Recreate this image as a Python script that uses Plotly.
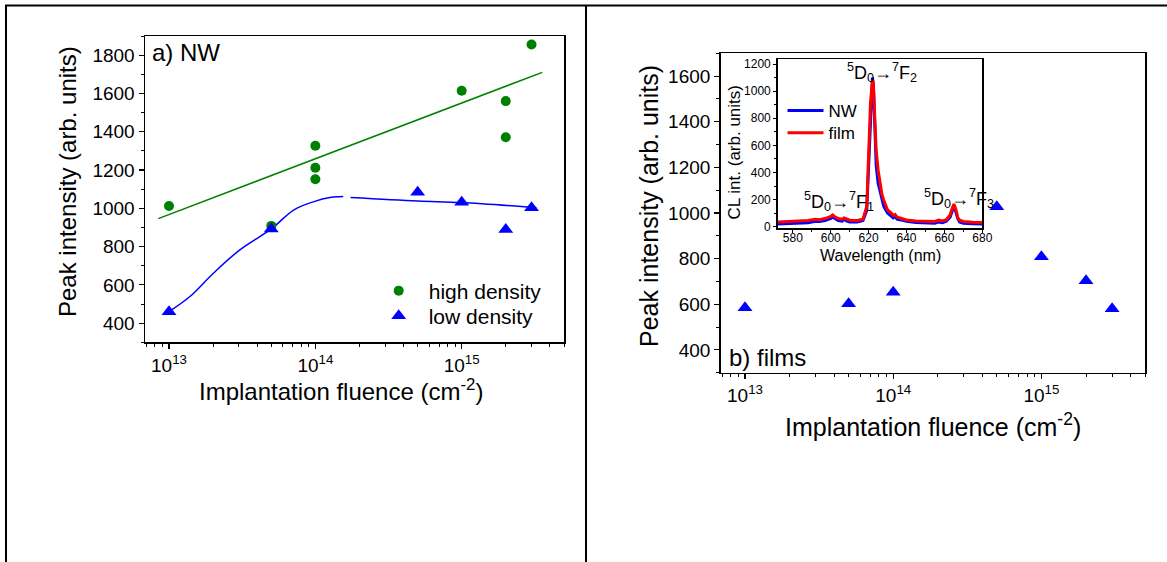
import plotly.graph_objects as go

FIG_W, FIG_H = 1167, 562
FONT = "Liberation Sans, Arial, sans-serif"

# ---------------- data ----------------
# a) NW
fluence_hd = [1e13, 5e13, 1e14, 1e14, 1e14, 1e15, 2e15, 2e15, 3e15]
peak_hd = [1012, 908, 1327, 1212, 1152, 1614, 1560, 1371, 1856]
fluence_ld = [1e13, 5e13, 5e14, 1e15, 2e15, 3e15]
peak_ld = [460, 892, 1084, 1032, 889, 1003]
fit_hd_x = [8.45e12, 3.55e15]
fit_hd_y = [946, 1710]
guide_ld_x = [1e13, 1.39e13, 2.01e13, 3.05e13, 5e13, 7.1e13, 9.8e13, 1.26e14, 1.55e14,
              None, 1.74e14, 5e14, 1e15, 3.24e15]
guide_ld_y = [460, 539, 661, 783, 892, 991, 1035, 1056, 1061,
              None, 1056, 1038, 1030, 1003]

# b) films
fluence_film = [1e13, 5e13, 1e14, 5e14, 1e15, 2e15, 3e15]
peak_film = [585, 602, 653, 1027, 808, 703, 580]

# inset: CL spectra
wavelength = [572, 576, 580, 584, 588, 592, 594, 597, 600, 601, 602, 604, 606, 607, 608,
              610, 614, 617, 619, 620, 621, 622, 622.5, 623, 624, 625, 626, 627, 628, 630,
              632, 633, 634, 635, 637, 640, 645, 650, 655, 657, 659, 661, 663, 664, 665,
              666, 667, 668, 670, 675, 680]
cl_nw = [20, 22, 24, 25, 28, 40, 38, 45, 60, 72, 62, 45, 40, 55, 45,
         35, 35, 45, 120, 450, 900, 1100, 1050, 800, 450, 320, 260, 200, 150, 100,
         80, 65, 75, 55, 50, 40, 30, 25, 25, 35, 30, 40, 70, 110, 148,
         110, 60, 35, 25, 22, 20]
cl_film = [35, 38, 40, 42, 45, 55, 52, 60, 75, 86, 75, 60, 55, 65, 58,
           48, 45, 55, 150, 500, 920, 1080, 1060, 880, 560, 418, 320, 240, 195, 123,
           100, 85, 90, 70, 62, 50, 42, 38, 38, 48, 42, 52, 86, 130, 167,
           130, 70, 48, 38, 32, 30]

fluence_ticks = [1e13, 1e14, 1e15]
fluence_ticktext = ["10<sup>13</sup>", "10<sup>14</sup>", "10<sup>15</sup>"]

GREEN = "#008000"
BLUE = "#0000FF"
RED = "#FF0000"

LOG_RANGE = [12.836, 15.699]


def fx(p):
    return p / FIG_W


def fy(p):
    return 1 - p / FIG_H


fig = go.Figure()

# ---- panel a ----
fig.add_trace(go.Scatter(x=fit_hd_x, y=fit_hd_y, mode="lines",
                         line=dict(color=GREEN, width=1.5), showlegend=False,
                         xaxis="x", yaxis="y", hoverinfo="skip"))
fig.add_trace(go.Scatter(x=guide_ld_x, y=guide_ld_y, mode="lines",
                         line=dict(color=BLUE, width=1.5, shape="spline"),
                         connectgaps=False, showlegend=False,
                         xaxis="x", yaxis="y", hoverinfo="skip"))
fig.add_trace(go.Scatter(x=fluence_hd, y=peak_hd, mode="markers", name="high density",
                         marker=dict(symbol="circle", size=10, color=GREEN),
                         xaxis="x", yaxis="y", legend="legend"))
fig.add_trace(go.Scatter(x=fluence_ld, y=peak_ld, mode="markers", name="low density",
                         marker=dict(symbol="triangle-up", size=13, color=BLUE),
                         xaxis="x", yaxis="y", legend="legend2"))

# ---- panel b ----
fig.add_trace(go.Scatter(x=fluence_film, y=peak_film, mode="markers", name="films",
                         marker=dict(symbol="triangle-up", size=13, color=BLUE),
                         showlegend=False, xaxis="x2", yaxis="y2"))

# ---- inset ----
fig.add_trace(go.Scatter(x=wavelength, y=cl_nw, mode="lines", name="NW",
                         line=dict(color=BLUE, width=3), xaxis="x3", yaxis="y3",
                         legend="legend3"))
fig.add_trace(go.Scatter(x=wavelength, y=cl_film, mode="lines", name="film",
                         line=dict(color=RED, width=3), xaxis="x3", yaxis="y3",
                         legend="legend4"))

axis_common = dict(showline=True, linecolor="black", linewidth=1.5, mirror=True,
                   ticks="outside", ticklen=5, tickwidth=1.2, tickcolor="black",
                   showgrid=False, zeroline=False, fixedrange=True, automargin=False,
                   tickfont=dict(family=FONT, size=19, color="black"))

lo, hi = 10 ** LOG_RANGE[0], 10 ** LOG_RANGE[1]
minor_log = [k * 10 ** e for e in range(12, 16) for k in range(2, 10)
             if lo < k * 10 ** e < hi]

log_x = dict(type="log", range=LOG_RANGE, tickmode="array",
             tickvals=fluence_ticks, ticktext=fluence_ticktext,
             minor=dict(tickmode="array", tickvals=minor_log, ticks="outside",
                        ticklen=3, tickwidth=1, tickcolor="black"))

inset_font = dict(family=FONT, size=12, color="black")

legend_base = dict(bgcolor="rgba(0,0,0,0)", borderwidth=0, xanchor="left",
                   yanchor="middle", orientation="v")

fig.update_layout(
    width=FIG_W, height=FIG_H,
    margin=dict(l=0, r=0, t=0, b=0, autoexpand=False),
    paper_bgcolor="white", plot_bgcolor="white",
    font=dict(family=FONT, color="black"),
    dragmode=False,
    xaxis=dict(**axis_common, **log_x, domain=[fx(145), fx(564)], anchor="y"),
    yaxis=dict(**axis_common, domain=[fy(342.3), fy(36)], anchor="x",
               range=[300, 1900], tick0=0, dtick=200,
               minor=dict(tick0=0, dtick=100, ticks="outside", ticklen=3,
                          tickwidth=1, tickcolor="black")),
    xaxis2=dict(**axis_common, **log_x, domain=[fx(720.7), fx(1145)], anchor="y2"),
    yaxis2=dict(**axis_common, domain=[fy(372.7), fy(53.3)], anchor="x2",
                range=[300, 1700], tick0=0, dtick=200,
                minor=dict(tick0=0, dtick=100, ticks="outside", ticklen=3,
                           tickwidth=1, tickcolor="black")),
    xaxis3=dict(showline=True, linecolor="black", linewidth=1.5, mirror=True,
                ticks="outside", ticklen=3, tickwidth=1, tickcolor="black",
                showgrid=False, zeroline=False, fixedrange=True, automargin=False,
                tickfont=inset_font, ticklabelstandoff=-5,
                domain=[fx(777.7), fx(982.3)], anchor="y3",
                range=[572, 680], tick0=0, dtick=20,
                minor=dict(tick0=0, dtick=10, ticks="outside", ticklen=2,
                           tickwidth=1, tickcolor="black")),
    yaxis3=dict(showline=True, linecolor="black", linewidth=1.5, mirror=True,
                ticks="outside", ticklen=3, tickwidth=1, tickcolor="black",
                showgrid=False, zeroline=False, fixedrange=True, automargin=False,
                tickfont=inset_font,
                domain=[fy(228.3), fy(59)], anchor="x3",
                range=[-12, 1237], tick0=0, dtick=200,
                minor=dict(tick0=0, dtick=100, ticks="outside", ticklen=2,
                           tickwidth=1, tickcolor="black")),
    legend=dict(**legend_base, x=fx(396.7 - 28), y=fy(291), itemwidth=50,
                font=dict(family=FONT, size=21, color="black")),
    legend2=dict(**legend_base, x=fx(396.7 - 28), y=fy(316), itemwidth=50,
                 font=dict(family=FONT, size=21, color="black")),
    legend3=dict(**legend_base, x=fx(782.5), y=fy(111), itemwidth=36,
                 font=dict(family=FONT, size=17, color="black")),
    legend4=dict(**legend_base, x=fx(782.5), y=fy(133.3), itemwidth=36,
                 font=dict(family=FONT, size=17, color="black")),
    showlegend=True,
)

# outer frame lines
frame = dict(type="line", xref="paper", yref="paper", line=dict(color="black", width=2))
fig.add_shape(**frame, x0=fx(5), x1=1, y0=fy(5.5), y1=fy(5.5))
fig.add_shape(**frame, x0=fx(6), x1=fx(6), y0=0, y1=fy(5))
fig.add_shape(**frame, x0=fx(586), x1=fx(586), y0=0, y1=fy(5))


def label(text, x, y, size, xanchor="left", yanchor="middle", angle=0):
    fig.add_annotation(text=text, x=fx(x), y=fy(y), xref="paper", yref="paper",
                       xanchor=xanchor, yanchor=yanchor, showarrow=False,
                       textangle=angle, font=dict(family=FONT, size=size, color="black"))


label("a) NW", 150, 53, 24)
label("b) films", 727, 358, 24)
label("Peak intensity (arb. units)", 68, 182, 24, xanchor="center", angle=-90)
label("Implantation fluence (cm<sup>-2</sup>)", 340.5, 390, 24, xanchor="center")
label("Peak intensity (arb. units)", 649, 206, 25, xanchor="center", angle=-90)
label("Implantation fluence (cm<sup>-2</sup>)", 933, 425, 25, xanchor="center")
label("CL int. (arb. units)", 733.5, 153, 17, xanchor="center", angle=-90)
label("Wavelength (nm)", 880, 255, 16, xanchor="center")
label("<sup>5</sup>D<sub>0</sub>→<sup>7</sup>F<sub>2</sub>", 845, 72, 18)
label("<sup>5</sup>D<sub>0</sub>→<sup>7</sup>F<sub>1</sub>", 801.7, 201, 18)
label("<sup>5</sup>D<sub>0</sub>→<sup>7</sup>F<sub>3</sub>", 921.7, 198, 18)

fig.write_html(
    "out.html",
    config={"staticPlot": True, "displayModeBar": False},
    post_script="document.body.style.margin='0';",
)
